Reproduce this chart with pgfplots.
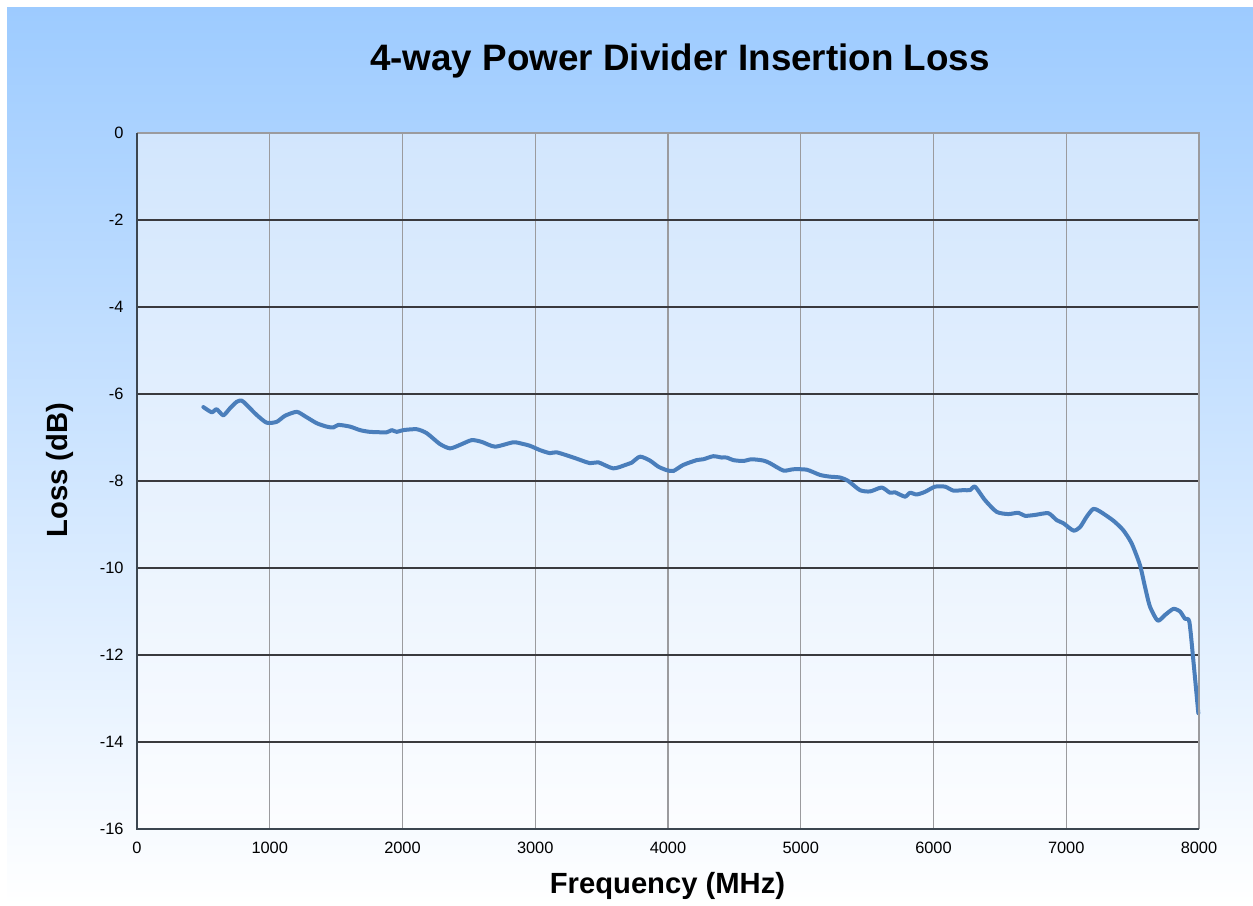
\documentclass[border=0pt]{standalone}
\usepackage{pgfplots}
\pgfplotsset{compat=1.18}
\usepackage{fontspec}
\setmainfont{Liberation Sans}
\definecolor{bgtop}{RGB}{157,203,255}
\definecolor{plottop}{RGB}{210,230,253}
\definecolor{plotbot}{RGB}{252,253,255}
\definecolor{darkgrid}{RGB}{58,58,62}
\definecolor{lightgrid}{RGB}{155,155,158}
\definecolor{darkaxis}{RGB}{60,70,80}
\definecolor{curve}{RGB}{74,126,187}
\begin{document}
\begin{tikzpicture}
\fill[white] (0pt,0pt) rectangle (626.5pt,-452.5pt);
\shade[top color=bgtop, bottom color=white] (3.5pt,-3.5pt) rectangle (626.5pt,-452.5pt);
\begin{axis}[
  at={(68.5pt,-66.5pt)}, anchor=north west,
  width=531pt, height=348pt, scale only axis,
  xmin=0, xmax=8000, ymin=-16, ymax=0,
  xtick={0,1000,2000,3000,4000,5000,6000,7000,8000},
  xticklabels={0,1000,2000,3000,4000,5000,6000,7000,8000},
  ytick={-16,-14,-12,-10,-8,-6,-4,-2,0},
  yticklabels={-16,-14,-12,-10,-8,-6,-4,-2,0},
  major tick length=0pt,
  tick label style={font=\fontsize{8.2}{10}\selectfont, text=black},
  yticklabel style={xshift=-3.2pt},
  xticklabel style={yshift=-3pt},
  xmajorgrids, ymajorgrids,
  x grid style={lightgrid, line width=0.7pt},
  y grid style={darkgrid, line width=0.75pt},
  axis line style={draw=none},
  axis background/.style={shade, top color=plottop, bottom color=plotbot},
  clip=false,
  after end axis/.code={
    \draw[lightgrid, line width=0.8pt] (rel axis cs:0,1) -- (rel axis cs:1,1) -- (rel axis cs:1,0);
    \draw[darkaxis, line width=0.9pt] (rel axis cs:0,1) -- (rel axis cs:0,0) -- (rel axis cs:1,0);
  },
]
\addplot[curve, line width=2pt, smooth, tension=0.4, line cap=round, line join=round] coordinates {
(500,-6.30) (563,-6.42) (600,-6.35) (650,-6.49) (700,-6.33) (751,-6.18) (788,-6.15) (826,-6.25)
(901,-6.48) (977,-6.66) (1052,-6.64) (1115,-6.50) (1203,-6.41) (1265,-6.51) (1353,-6.67)
(1429,-6.75) (1479,-6.77) (1517,-6.71) (1605,-6.75) (1680,-6.83) (1755,-6.87) (1881,-6.88)
(1918,-6.83) (1956,-6.87) (2006,-6.83) (2107,-6.81) (2182,-6.90) (2282,-7.15) (2358,-7.25)
(2433,-7.17) (2521,-7.06) (2596,-7.10) (2697,-7.21) (2835,-7.11) (2910,-7.15) (2960,-7.19)
(3036,-7.29) (3111,-7.36) (3161,-7.34) (3287,-7.46) (3412,-7.59) (3475,-7.57) (3588,-7.71)
(3689,-7.62) (3726,-7.58) (3789,-7.44) (3864,-7.53) (3927,-7.67) (3990,-7.75) (4040,-7.77)
(4115,-7.63) (4216,-7.52) (4266,-7.50) (4341,-7.43) (4404,-7.46) (4442,-7.46) (4492,-7.52)
(4567,-7.54) (4630,-7.50) (4718,-7.53) (4768,-7.59) (4869,-7.76) (4944,-7.73) (5045,-7.74)
(5145,-7.86) (5220,-7.90) (5296,-7.92) (5358,-8.00) (5446,-8.21) (5522,-8.24) (5610,-8.15)
(5672,-8.27) (5710,-8.26) (5785,-8.36) (5823,-8.27) (5873,-8.31) (5936,-8.25) (6011,-8.13)
(6087,-8.13) (6149,-8.22) (6225,-8.21) (6275,-8.21) (6313,-8.13) (6388,-8.44) (6476,-8.71)
(6564,-8.76) (6639,-8.73) (6689,-8.80) (6765,-8.78) (6865,-8.74) (6928,-8.90) (6978,-8.97)
(7054,-9.14) (7104,-9.06) (7154,-8.82) (7204,-8.64) (7254,-8.70) (7354,-8.91) (7429,-9.13)
(7492,-9.43) (7555,-9.93) (7593,-10.43) (7631,-10.89) (7689,-11.21) (7744,-11.08) (7807,-10.94)
(7857,-11.00) (7895,-11.17) (7927,-11.23) (7957,-12.11) (7995,-13.34)
};
\end{axis}
\node[anchor=base, font=\fontsize{18.4}{22}\selectfont\bfseries, inner sep=0pt] at (340pt,-35pt) {4-way Power Divider Insertion Loss};
\node[anchor=base, font=\fontsize{14.6}{17}\selectfont\bfseries, inner sep=0pt] at (333.75pt,-446.5pt) {Frequency (MHz)};
\node[anchor=base, rotate=90, font=\fontsize{14.6}{17}\selectfont\bfseries, inner sep=0pt] at (33.5pt,-235pt) {Loss (dB)};
\end{tikzpicture}
\end{document}
